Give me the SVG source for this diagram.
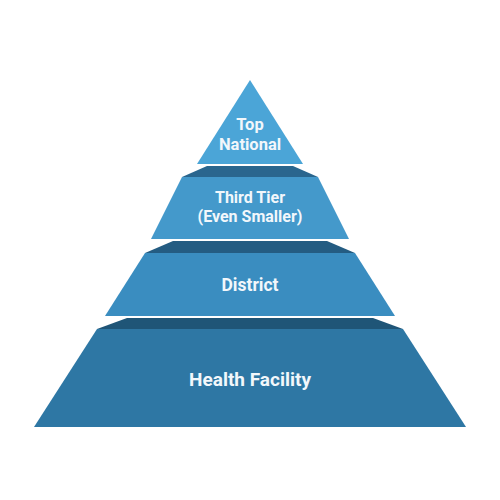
<svg xmlns="http://www.w3.org/2000/svg" width="500" height="500" viewBox="0 0 500 500">
<style>
text{font-family:Roboto,"Liberation Sans",sans-serif;font-weight:bold;fill:#F2F7FB;text-anchor:middle}
.band{stroke:none}
</style>
<rect width="500" height="500" fill="#FFFFFF"/>
<g id="tier4">
<polygon class="band" points="127,318 373,318 403,329 97,329" fill="#1F5577"/>
<polygon points="97,329 403,329 466,427 34,427" fill="#2E77A4"/>
<text x="250" y="386" font-size="19">Health Facility</text>
</g>
<g id="tier3">
<polygon class="band" points="173,241 327,241 355,253 145,253" fill="#245C82"/>
<polygon points="145,253 355,253 395,316 105,316" fill="#3A8DC0"/>
<text x="250" y="291" font-size="17.5">District</text>
</g>
<g id="tier2">
<polygon class="band" points="207,166 293,166 318,177 182,177" fill="#2A668E"/>
<polygon points="182,177 318,177 349,239 151,239" fill="#4499CB"/>
<text x="250" y="203" font-size="16">Third Tier</text>
<text x="250" y="222" font-size="16">(Even Smaller)</text>
</g>
<g id="tier1">
<polygon points="250,80 303,164 197,164" fill="#4BA5D7"/>
<text x="250" y="130" font-size="16.5">Top</text>
<text x="250" y="150" font-size="16.5">National</text>
</g>
<g id="connectors"></g>
</svg>
